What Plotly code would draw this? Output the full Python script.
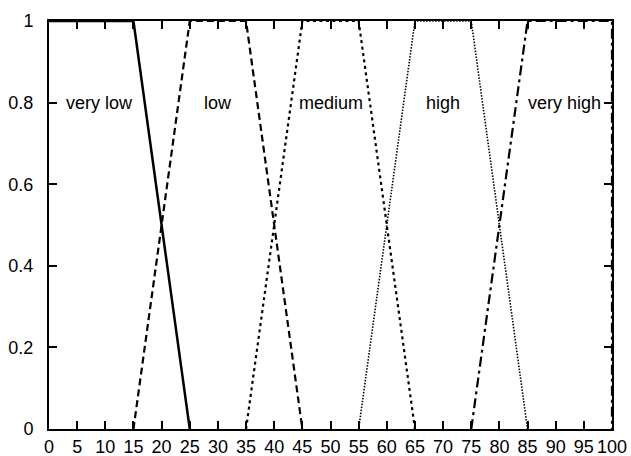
import plotly.graph_objects as go

# Fuzzy membership functions (trapezoids) over a 0-100 universe
x_very_low = [0, 15, 25]
y_very_low = [1, 1, 0]

x_low = [15, 25, 35, 45]
y_low = [0, 1, 1, 0]

x_medium = [35, 45, 55, 65]
y_medium = [0, 1, 1, 0]

x_high = [55, 65, 75, 85]
y_high = [0, 1, 1, 0]

x_very_high = [75, 85, 100, 100]
y_very_high = [0, 1, 1, 0]

term_names = ["very low", "low", "medium", "high", "very high"]
term_label_x = [9, 30, 50, 70, 91.6]
term_label_y = [0.8, 0.8, 0.8, 0.8, 0.8]

x_ticks = list(range(0, 101, 5))
y_ticks = [0, 0.2, 0.4, 0.6, 0.8, 1]
y_tick_text = ["0", "0.2", "0.4", "0.6", "0.8", "1"]

FONT = "Liberation Sans, Arial, Helvetica, sans-serif"

fig = go.Figure()

series = [
    (x_very_low, y_very_low, "solid", 2.5),
    (x_low, y_low, "7px,4px", 2.2),
    (x_medium, y_medium, "3px,3.5px", 2.2),
    (x_high, y_high, "1.5px,1.5px", 1.6),
    (x_very_high, y_very_high, "10px,4px,3px,4px", 2.2),
]
for xs, ys, dash, w in series:
    fig.add_trace(go.Scatter(
        x=xs, y=ys, mode="lines",
        line=dict(color="black", width=w, dash=dash),
        showlegend=False, hoverinfo="skip", cliponaxis=False,
    ))

for name, lx, ly in zip(term_names, term_label_x, term_label_y):
    fig.add_annotation(x=lx, y=ly, text=name, showarrow=False,
                       xanchor="center", yanchor="middle",
                       font=dict(family=FONT, size=18, color="black"))

axis_common = dict(
    showgrid=False, zeroline=False, showline=True, linecolor="black",
    linewidth=2, mirror="allticks", ticks="inside", ticklen=8,
    tickwidth=1.5, tickcolor="black", automargin=False,
    tickfont=dict(family=FONT, size=18, color="black"),
)

fig.update_layout(
    width=631, height=456,
    margin=dict(l=49, r=19, t=21, b=27),
    paper_bgcolor="white", plot_bgcolor="white",
    xaxis=dict(range=[0, 100], tickvals=x_ticks, ticklabelstandoff=0, **axis_common),
    yaxis=dict(range=[0, 1], tickvals=y_ticks, ticktext=y_tick_text,
               ticklabelstandoff=10, **axis_common),
)

fig.write_html("out.html")
